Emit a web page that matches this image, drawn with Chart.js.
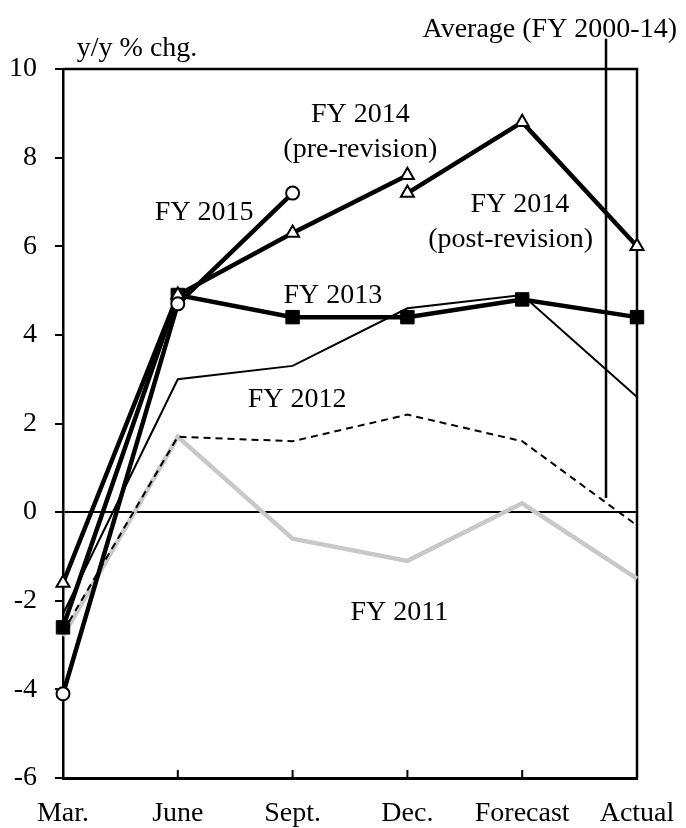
<!DOCTYPE html>
<html>
<head>
<meta charset="utf-8">
<script src="https://cdn.jsdelivr.net/npm/chart.js@4"></script>
<style>
  html, body { margin: 0; padding: 0; background: #fff; }
  #wrap { width: 686px; height: 828px; position: relative; }
</style>
</head>
<body>
<div id="wrap"><canvas id="chart"></canvas></div>
<script>
'use strict';

const categories = ['Mar.', 'June', 'Sept.', 'Dec.', 'Forecast', 'Actual'];

// y/y % chg.
const fy2015 = [-4.1, 4.7, 7.2, null, null, null];
const fy2014Pre = [-1.6, 4.9, 6.3, 7.6, null, null];
const fy2014Post = [null, null, null, 7.2, 8.8, 6.0];
const fy2013 = [-2.6, 4.9, 4.4, 4.4, 4.8, 4.4];
const fy2012 = [-2.3, 3.0, 3.3, 4.6, 4.9, 2.6];
const average = [-2.7, 1.7, 1.6, 2.2, 1.6, -0.3];
const fy2011 = [-2.8, 1.7, -0.6, -1.1, 0.2, -1.5];

const yTicks = [-6, -4, -2, 0, 2, 4, 6, 8, 10];

const FONT = "'Liberation Serif', 'Times New Roman', serif";
Chart.defaults.font.family = FONT;
Chart.defaults.color = '#000';

// text labels, anchored in data units (x = category index, y = value)
const notes = [
  { text: 'y/y % chg.', x: 0.12, y: 10.47, align: 'left' },
  { text: 'Average (FY 2000-14)', x: 4.24, y: 10.88, align: 'center' },
  { text: 'FY 2014', x: 2.59, y: 8.96, align: 'center' },
  { text: '(pre-revision)', x: 2.59, y: 8.17, align: 'center' },
  { text: 'FY 2015', x: 1.23, y: 6.75, align: 'center' },
  { text: 'FY 2014', x: 3.98, y: 6.93, align: 'center' },
  { text: '(post-revision)', x: 3.90, y: 6.14, align: 'center' },
  { text: 'FY 2013', x: 2.35, y: 4.88, align: 'center' },
  { text: 'FY 2012', x: 2.04, y: 2.53, align: 'center' },
  { text: 'FY 2011', x: 2.93, y: -2.26, align: 'center' },
];

const annotate = {
  id: 'annotate',
  beforeDatasetsDraw(chart) {
    const { ctx, chartArea: a, scales } = chart;
    ctx.save();
    ctx.strokeStyle = '#000';
    ctx.lineWidth = 2.5;
    // top + right frame
    ctx.beginPath();
    ctx.moveTo(a.left, a.top);
    ctx.lineTo(a.right, a.top);
    ctx.lineTo(a.right, a.bottom);
    ctx.stroke();
    // inward ticks on the x axis
    ctx.lineWidth = 2;
    for (let i = 1; i < categories.length - 1; i++) {
      const px = scales.x.getPixelForValue(i);
      ctx.beginPath();
      ctx.moveTo(px, a.bottom);
      ctx.lineTo(px, a.bottom - 8);
      ctx.stroke();
    }
    // pointer for the average line
    const lx = scales.x.getPixelForValue(4.73);
    ctx.lineWidth = 2.5;
    ctx.beginPath();
    ctx.moveTo(lx, scales.y.getPixelForValue(10.68));
    ctx.lineTo(lx, scales.y.getPixelForValue(0.32));
    ctx.stroke();
    ctx.restore();
  },
  afterDraw(chart) {
    const { ctx, scales } = chart;
    ctx.save();
    ctx.fillStyle = '#000';
    ctx.font = '28px ' + FONT;
    ctx.textBaseline = 'middle';
    for (const n of notes) {
      ctx.textAlign = n.align;
      ctx.fillText(n.text, scales.x.getPixelForValue(n.x), scales.y.getPixelForValue(n.y));
    }
    ctx.restore();
  }
};

const thick = 4.5;

new Chart(document.getElementById('chart'), {
  type: 'line',
  data: {
    labels: categories,
    datasets: [
      {
        label: 'FY 2015', data: fy2015,
        borderColor: '#000', borderWidth: thick,
        pointStyle: 'circle', pointRadius: 6.5, pointBorderWidth: 2,
        pointBackgroundColor: '#fff', pointBorderColor: '#000',
        clip: false,
      },
      {
        label: 'FY 2014 (pre-revision)', data: fy2014Pre,
        borderColor: '#000', borderWidth: thick,
        pointStyle: 'triangle', pointRadius: 7.5, pointBorderWidth: 2,
        pointBackgroundColor: '#fff', pointBorderColor: '#000',
        clip: false,
      },
      {
        label: 'FY 2014 (post-revision)', data: fy2014Post,
        borderColor: '#000', borderWidth: thick,
        pointStyle: 'triangle', pointRadius: 7.5, pointBorderWidth: 2,
        pointBackgroundColor: '#fff', pointBorderColor: '#000',
        clip: false,
      },
      {
        label: 'FY 2013', data: fy2013,
        borderColor: '#000', borderWidth: thick,
        pointStyle: 'rect', pointRadius: 9.5, pointBorderWidth: 1,
        pointBackgroundColor: '#000', pointBorderColor: '#000',
        clip: false,
      },
      {
        label: 'FY 2012', data: fy2012,
        borderColor: '#000', borderWidth: 2,
        pointRadius: 0,
        clip: false,
      },
      {
        label: 'Average (FY 2000-14)', data: average,
        borderColor: '#000', borderWidth: 2, borderDash: [7, 5],
        pointRadius: 0,
        clip: false,
      },
      {
        label: 'FY 2011', data: fy2011,
        borderColor: '#c8c8c8', borderWidth: thick,
        pointRadius: 0,
        clip: false,
      },
    ]
  },
  options: {
    responsive: true,
    maintainAspectRatio: false,
    animation: false,
    spanGaps: false,
    layout: {
      padding: { top: 69, right: 49, left: 0, bottom: 0 }
    },
    plugins: {
      legend: { display: false },
      tooltip: { enabled: false },
    },
    elements: {
      line: { tension: 0, borderJoinStyle: 'miter' },
    },
    scales: {
      x: {
        offset: false,
        afterFit: (s) => {
          s.height = 50;
          s.paddingLeft = 0;
          s.paddingRight = 0;
        },
        grid: { drawOnChartArea: false, drawTicks: false },
        border: { color: '#000', width: 3 },
        ticks: {
          padding: 19,
          maxRotation: 0,
          autoSkip: false,
          color: '#000',
          font: { size: 28, family: FONT },
        },
      },
      y: {
        min: -6,
        max: 10,
        afterFit: (s) => {
          s.width = 63;
          s.paddingTop = 0;
          s.paddingBottom = 0;
        },
        afterBuildTicks: (s) => { s.ticks = yTicks.map(v => ({ value: v })); },
        grid: {
          color: (c) => (c.tick && c.tick.value === 0 ? '#000' : 'rgba(0,0,0,0)'),
          lineWidth: 2,
          tickColor: '#000',
          tickWidth: 2,
          tickLength: 8,
        },
        border: { color: '#000', width: 2.5 },
        ticks: {
          padding: 18,
          color: '#000',
          font: { size: 28, family: FONT },
        },
      }
    }
  },
  plugins: [annotate]
});
</script>
</body>
</html>
